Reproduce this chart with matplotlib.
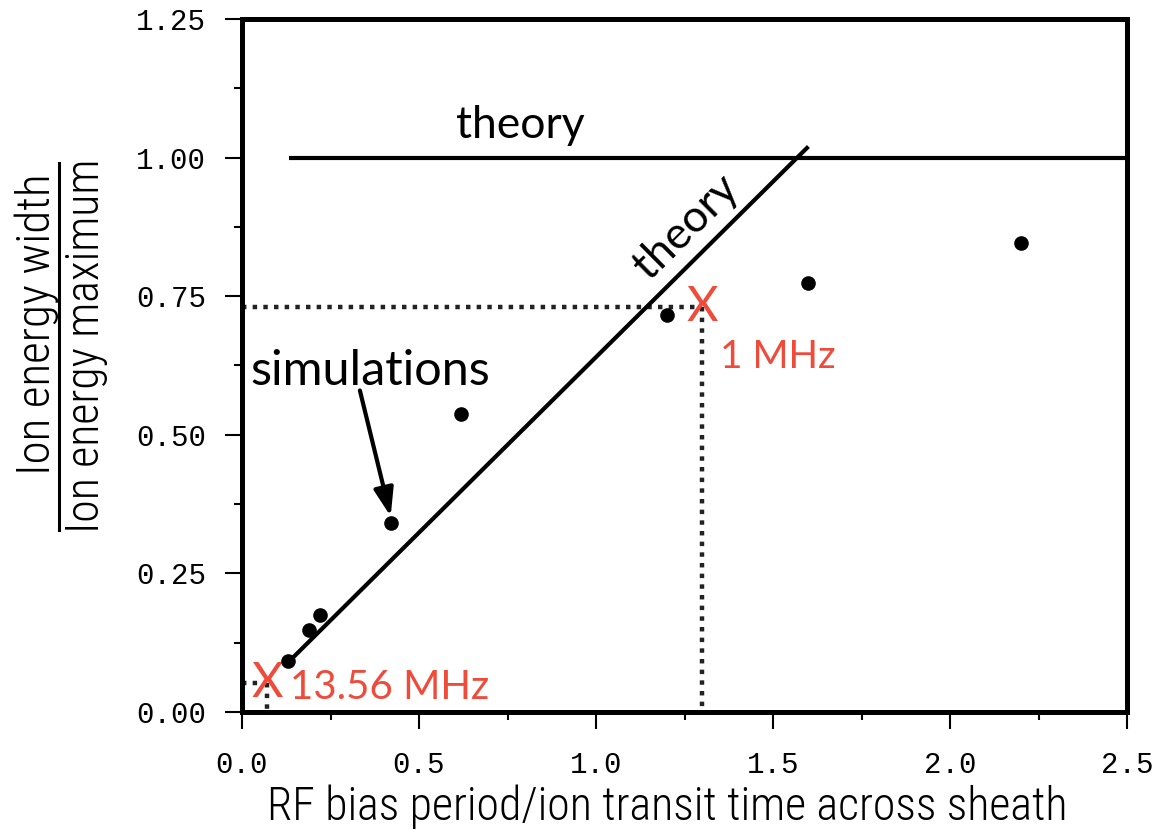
import matplotlib
matplotlib.use("Agg")
import matplotlib.pyplot as plt
from matplotlib.ticker import MultipleLocator, FormatStrFormatter
from matplotlib.lines import Line2D

# Simulation results: RF period / ion transit time vs. normalized energy width
sim_x = [0.13, 0.19, 0.22, 0.42, 0.62, 1.20, 1.60, 2.20]
sim_y = [0.092, 0.148, 0.175, 0.341, 0.538, 0.716, 0.774, 0.846]

# Theory: linear low-frequency branch and high-frequency limit
theory_lin_x = [0.12, 1.60]
theory_lin_y = [0.083, 1.02]
theory_flat_x = [0.133, 2.5]
theory_flat_y = [1.0, 1.0]

# Operating points
op_labels = ["13.56 MHz", "1 MHz"]
op_x = [0.07, 1.30]
op_y = [0.053, 0.73]

red = "#ee4b3b"
mono = "Liberation Mono"
narrow = ["Liberation Sans Narrow", "DejaVu Sans Condensed", "Roboto Condensed", "Roboto"]
label_font = ["Lato", "DejaVu Sans"]

fig = plt.figure(figsize=(11.53, 8.30), dpi=100)
ax = fig.add_axes([242 / 1153, 1 - 712 / 830, (1127 - 242) / 1153, (712 - 19) / 830])

ax.set_xlim(0, 2.5)
ax.set_ylim(0, 1.25)

# dotted guides to the operating points
for x0, y0 in zip(op_x, op_y):
    ax.plot([0, x0], [y0, y0], color="#222222", lw=3.2, ls=(0, (1, 1.4)), zorder=2)
    ax.plot([x0, x0], [y0, 0], color="#222222", lw=3.2, ls=(0, (1, 1.4)), zorder=2)
    ax.text(x0, y0, "X", color=red, fontsize=35, family=label_font, weight="normal",
            ha="center", va="center", zorder=4)

ax.text(op_x[0] + 0.066, op_y[0] - 0.008, op_labels[0], color=red, fontsize=29,
        family=label_font, ha="left", va="center")
ax.text(op_x[1] + 0.05, op_y[1] - 0.09, op_labels[1], color=red, fontsize=28,
        family=label_font, ha="left", va="center")

# theory curves
ax.plot(theory_lin_x, theory_lin_y, color="black", lw=3, solid_capstyle="butt", zorder=3)
ax.plot(theory_flat_x, theory_flat_y, color="black", lw=3, solid_capstyle="butt", zorder=3)

# simulations
ax.plot(sim_x, sim_y, "o", color="black", ms=9.5, zorder=5)

ax.text(0.785, 1.057, "theory", fontsize=32, family=label_font,
        ha="center", va="center")
ax.text(1.255, 0.875, "theory", fontsize=32, family=label_font,
        ha="center", va="center", rotation=44.7, rotation_mode="anchor")
ax.text(0.023, 0.615, "simulations", fontsize=35, family=label_font,
        ha="left", va="center")
ax.annotate("", xy=(sim_x[3], sim_y[3] + 0.012), xytext=(0.333, 0.58),
            arrowprops=dict(arrowstyle="-|>,head_length=1.7,head_width=0.6",
                            color="black", lw=3, shrinkA=0, shrinkB=0))

# axes styling
for s in ax.spines.values():
    s.set_linewidth(3.6)
ax.xaxis.set_major_locator(MultipleLocator(0.5))
ax.xaxis.set_minor_locator(MultipleLocator(0.25))
ax.yaxis.set_major_locator(MultipleLocator(0.25))
ax.yaxis.set_minor_locator(MultipleLocator(0.125))
ax.xaxis.set_major_formatter(FormatStrFormatter("%.1f"))
ax.yaxis.set_major_formatter(FormatStrFormatter("%.2f"))
ax.tick_params(which="major", direction="out", length=12, width=1.5, pad=14,
               labelsize=21)
ax.tick_params(which="minor", direction="out", length=6, width=1.5)
ax.tick_params(axis="x", which="major", length=12, pad=16)
for lab in ax.get_xticklabels() + ax.get_yticklabels():
    lab.set_family(mono)

ax.set_xlabel("RF bias period/ion transit time across sheath", fontsize=33,
              family=narrow, weight="light")
ax.xaxis.set_label_coords((667 - 242) / 885, -(807 - 712) / 693)
ax.xaxis.label.set_va("center")

# stacked y-axis label as a fraction
fig.text(37 / 1153, 1 - 324 / 830, "Ion energy width", rotation=90, fontsize=34,
         family=narrow, weight="light", ha="center", va="center")
fig.text(86 / 1153, 1 - 346 / 830, "Ion energy maximum", rotation=90, fontsize=33,
         family=narrow, weight="light", ha="center", va="center")
fig.add_artist(Line2D([59 / 1153, 59 / 1153], [1 - 163 / 830, 1 - 530 / 830],
                      color="black", lw=2.2, transform=fig.transFigure))

fig.savefig("out.png", dpi=100)
